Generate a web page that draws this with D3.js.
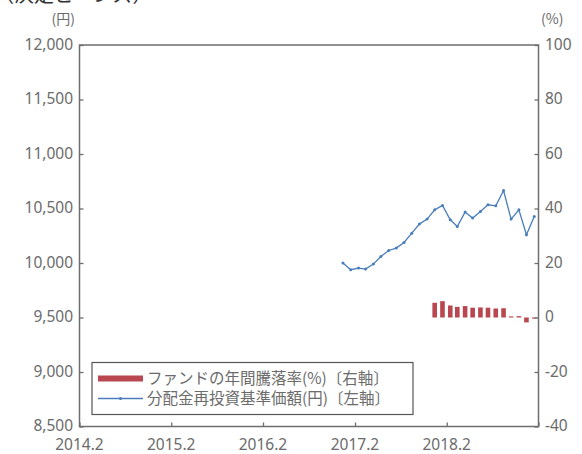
<!DOCTYPE html>
<html>
<head>
<meta charset="utf-8">
<script src="https://cdn.jsdelivr.net/npm/d3@7/dist/d3.min.js"></script>
<style>
  body { margin: 0; background: #fff; }
  svg text { font-family: "Noto Sans CJK JP", "Noto Sans", sans-serif; fill: #6b6b6b; }
  svg text.num { font-family: "Noto Sans", "Open Sans", sans-serif; }
</style>
</head>
<body>
<svg width="582" height="454"></svg>
<script>
// months (values sit at mid-month)
const lineMonths = ["2016-12","2017-01","2017-02","2017-03","2017-04","2017-05","2017-06",
    "2017-07","2017-08","2017-09","2017-10","2017-11","2017-12","2018-01","2018-02","2018-03",
    "2018-04","2018-05","2018-06","2018-07","2018-08","2018-09","2018-10","2018-11","2018-12","2019-01"];
// 分配金再投資基準価額 (円)
const navValues = [10000, 9938, 9953, 9944, 9990, 10060, 10115, 10137, 10188, 10274, 10357, 10403,
    10488, 10528, 10396, 10335, 10467, 10412, 10473, 10534, 10525, 10665, 10403, 10488, 10259, 10427];

const barMonths = ["2017-12","2018-01","2018-02","2018-03","2018-04","2018-05","2018-06",
    "2018-07","2018-08","2018-09","2018-10","2018-11","2018-12","2019-01"];
// ファンドの年間騰落率 (%)
const returnValues = [5.4, 6.0, 4.4, 3.9, 4.2, 3.6, 3.7, 3.6, 3.3, 3.4, 0.4, 0.5, -1.8, -0.4];

const xTicks = ["2014-02","2015-02","2016-02","2017-02","2018-02","2019-02"];
const xTickLabels = ["2014.2","2015.2","2016.2","2017.2","2018.2",""];
const leftTicks = [8500, 9000, 9500, 10000, 10500, 11000, 11500, 12000];
const rightTicks = [-40, -20, 0, 20, 40, 60, 80, 100];

const legendLabels = ["ファンドの年間騰落率(%)〔右軸〕", "分配金再投資基準価額(円)〔左軸〕"];

const parseMonth = d3.timeParse("%Y-%m");
const midMonth = s => d3.timeDay.offset(parseMonth(s), 14);

const plot = { left: 79.5, right: 538.5, top: 45, bottom: 426.5 };
const axisColor = "#6e6e6e";
const lineColor = "#4a7ebb";
const barColor = "#b9474f";

const svg = d3.select("svg");

let xScale = d3.scaleTime()
    .domain([parseMonth(xTicks[0]), parseMonth(xTicks[xTicks.length - 1])])
    .range([plot.left, plot.right]);
let yLeft = d3.scaleLinear().domain([8500, 12000]).range([plot.bottom, plot.top]);
let yRight = d3.scaleLinear().domain([-40, 100]).range([plot.bottom, plot.top]);

// cut-off title at the very top
svg.append("text")
    .attr("x", -6)
    .attr("y", 2)
    .style("font-size", "20px")
    .style("fill", "#333")
    .text("（決定ビーンズ）");

// unit labels
svg.append("text").attr("x", 75).attr("y", 24).attr("text-anchor", "end")
    .style("font-size", "14px").text("(円)");
svg.append("text").attr("x", 541).attr("y", 24)
    .style("font-size", "14px").text("(%)");

// bars
const bw = 4.6;
svg.append("g")
    .selectAll("rect")
    .data(barMonths.map((m, i) => ({ date: midMonth(m), v: returnValues[i] })))
    .enter().append("rect")
    .attr("x", d => xScale(d.date) - bw / 2)
    .attr("width", bw)
    .attr("y", d => yRight(Math.max(0, d.v)))
    .attr("height", d => Math.abs(yRight(d.v) - yRight(0)))
    .attr("fill", barColor);

// line
const lineData = lineMonths.map((m, i) => ({ date: midMonth(m), v: navValues[i] }));
svg.append("path")
    .datum(lineData)
    .attr("fill", "none")
    .attr("stroke", lineColor)
    .attr("stroke-width", 1.3)
    .attr("d", d3.line().x(d => xScale(d.date)).y(d => yLeft(d.v)));
svg.append("g")
    .selectAll("circle")
    .data(lineData)
    .enter().append("circle")
    .attr("cx", d => xScale(d.date))
    .attr("cy", d => yLeft(d.v))
    .attr("r", 1.5)
    .attr("fill", lineColor);

// axes (ticks pointing inward)
const leftAxis = svg.append("g")
    .attr("transform", "translate(" + plot.left + ",0)")
    .call(d3.axisRight(yLeft).tickValues(leftTicks).tickSize(4).tickFormat(""));
leftAxis.select(".domain").remove();
svg.append("g")
    .selectAll("text")
    .data(leftTicks)
    .enter().append("text")
    .attr("class", "num")
    .attr("x", 73)
    .attr("y", d => yLeft(d))
    .attr("dy", "0.3em")
    .attr("text-anchor", "end")
    .style("font-size", "15.5px")
    .text(d3.format(","));

const rightAxis = svg.append("g")
    .attr("transform", "translate(" + plot.right + ",0)")
    .call(d3.axisLeft(yRight).tickValues(rightTicks).tickSize(4).tickFormat(""));
rightAxis.select(".domain").remove();
svg.append("g")
    .selectAll("text")
    .data(rightTicks)
    .enter().append("text")
    .attr("class", "num")
    .attr("x", 545)
    .attr("y", d => yRight(d))
    .attr("dy", "0.3em")
    .style("font-size", "15.5px")
    .text(d => d);

const bottomAxis = svg.append("g")
    .attr("transform", "translate(0," + plot.bottom + ")")
    .call(d3.axisTop(xScale).tickValues(xTicks.map(parseMonth)).tickSize(4).tickFormat(""));
bottomAxis.select(".domain").remove();
svg.append("g")
    .selectAll("text")
    .data(xTicks)
    .enter().append("text")
    .attr("class", "num")
    .attr("x", d => xScale(parseMonth(d)))
    .attr("y", 445)
    .attr("dy", "0.35em")
    .attr("text-anchor", "middle")
    .style("font-size", "15.5px")
    .text((d, i) => xTickLabels[i]);

svg.selectAll(".tick line").attr("stroke", axisColor).attr("stroke-width", 1.3);

// frame
svg.append("rect")
    .attr("x", plot.left).attr("y", plot.top)
    .attr("width", plot.right - plot.left)
    .attr("height", plot.bottom - plot.top)
    .attr("fill", "none")
    .attr("stroke", axisColor)
    .attr("stroke-width", 1.5);

// legend
const legend = svg.append("g");
legend.append("rect")
    .attr("x", 92).attr("y", 362.5).attr("width", 321).attr("height", 52)
    .attr("fill", "#fff").attr("stroke", "#555").attr("stroke-width", 1.2);
legend.append("rect")
    .attr("x", 98).attr("y", 375.5).attr("width", 45).attr("height", 6)
    .attr("fill", barColor);
legend.append("line")
    .attr("x1", 98).attr("x2", 143).attr("y1", 398.5).attr("y2", 398.5)
    .attr("stroke", lineColor).attr("stroke-width", 1.3);
legend.append("circle")
    .attr("cx", 120.5).attr("cy", 398.5).attr("r", 1.5).attr("fill", lineColor);
legend.selectAll("text.lg")
    .data(legendLabels)
    .enter().append("text")
    .attr("class", "lg")
    .attr("x", 147)
    .attr("y", (d, i) => 378.5 + i * 20)
    .attr("dy", "0.35em")
    .style("font-size", "15.5px")
    .text(d => d);
</script>
</body>
</html>
